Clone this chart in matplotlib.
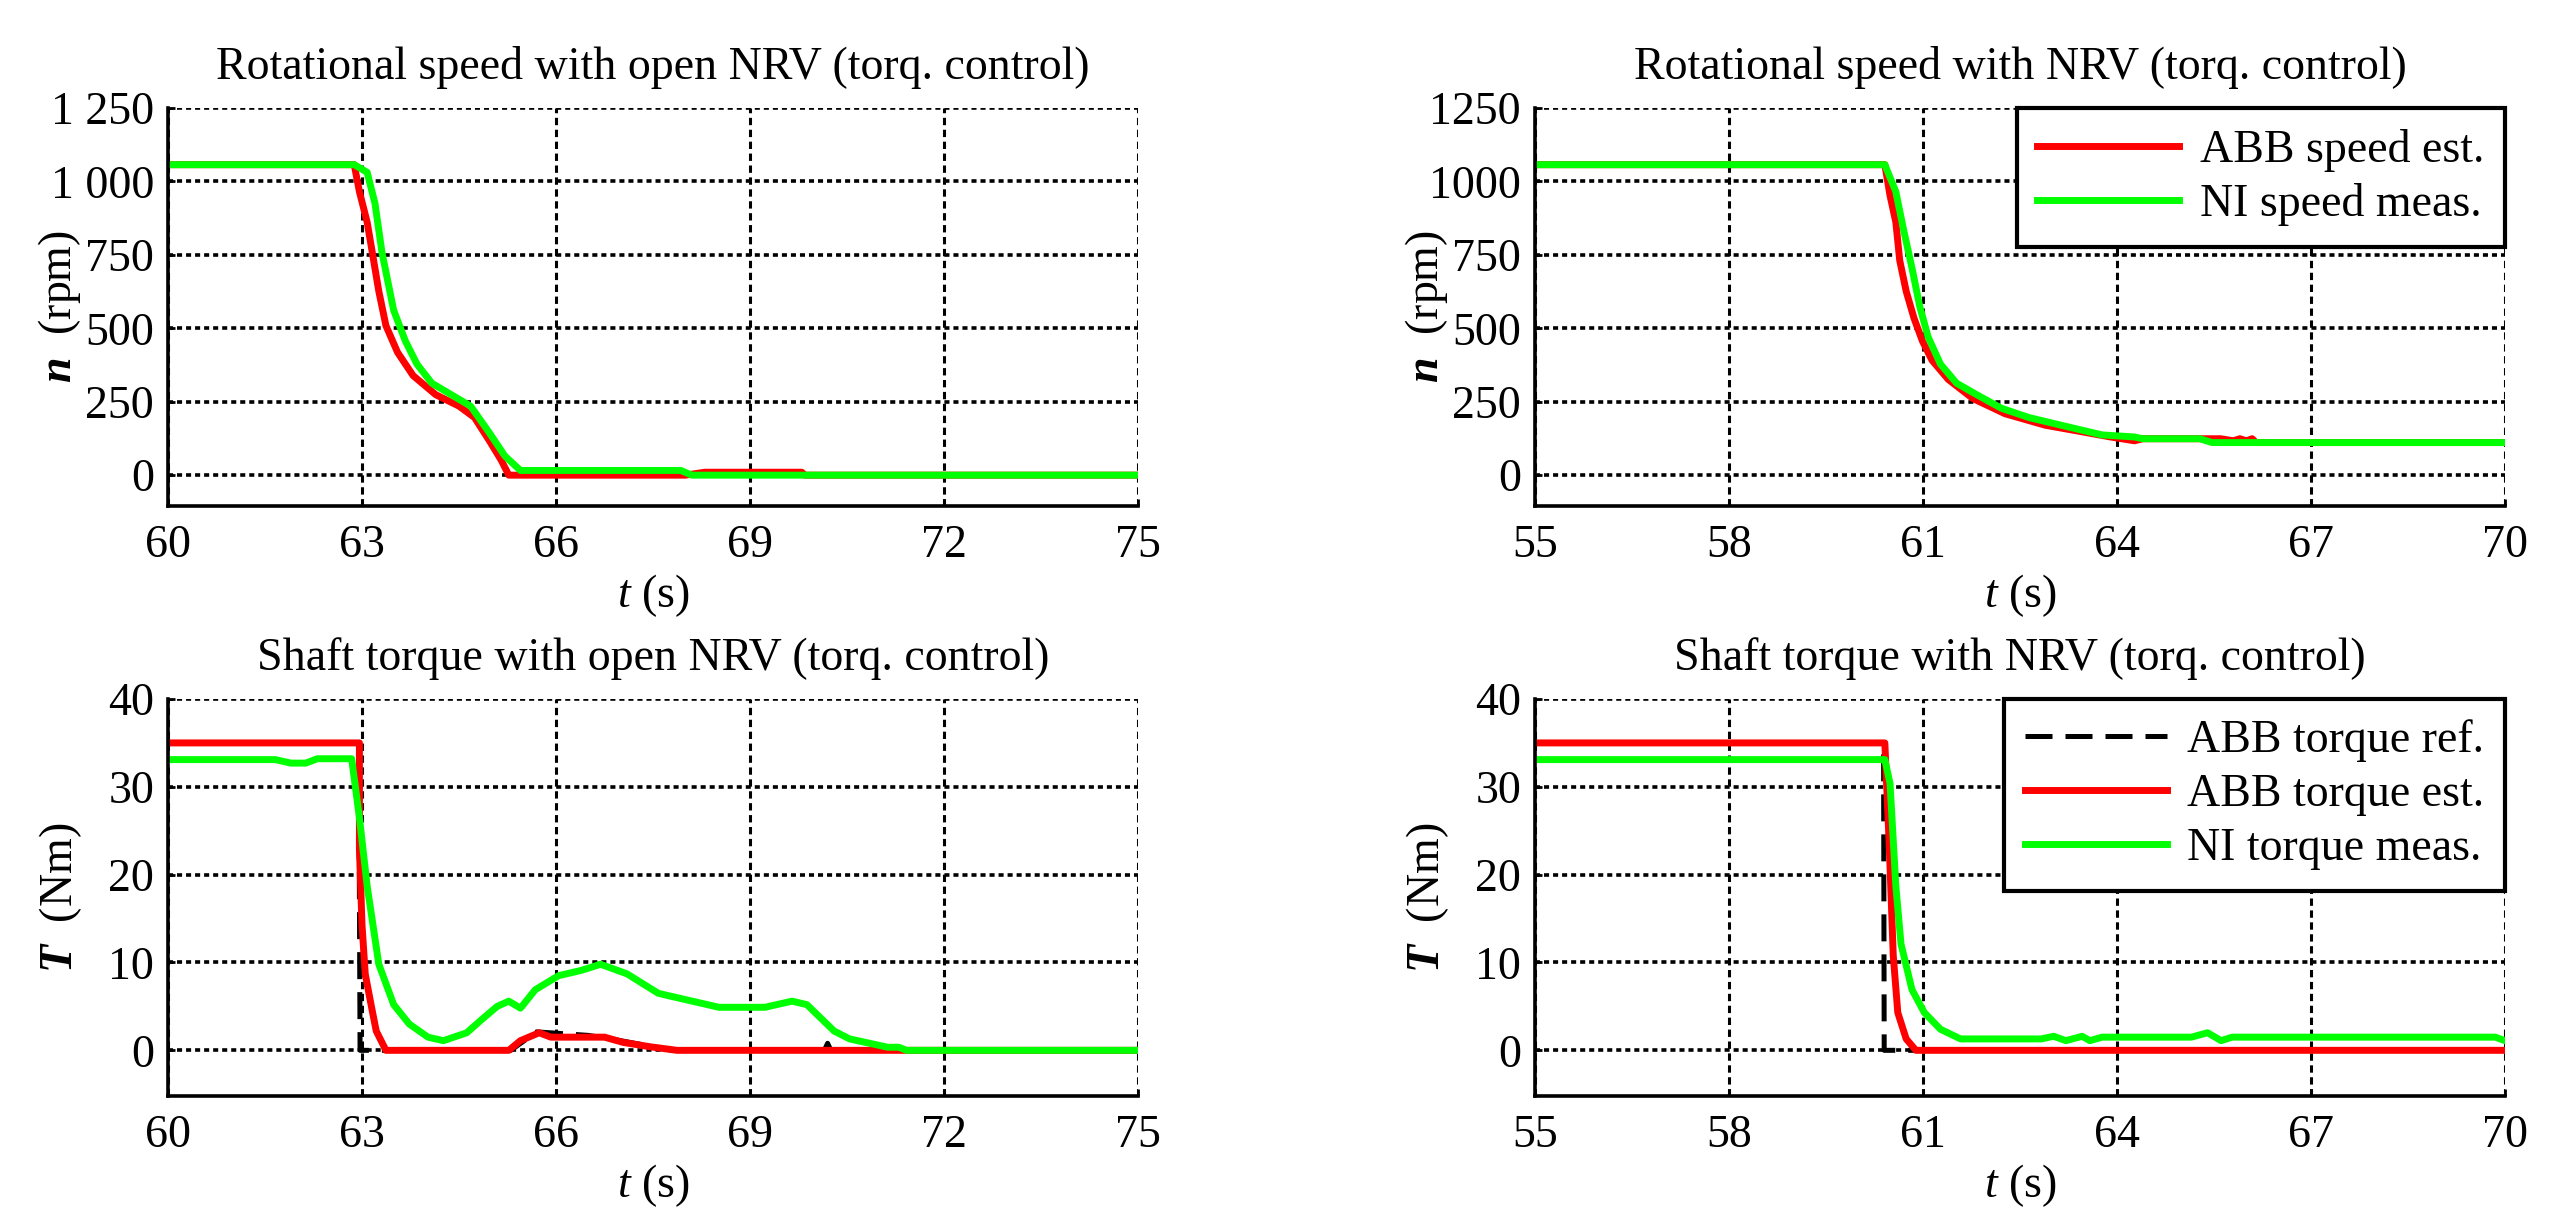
import matplotlib
matplotlib.use("Agg")
import matplotlib.pyplot as plt
from matplotlib.ticker import FuncFormatter

plt.rcParams['font.family'] = ['Liberation Serif', 'DejaVu Serif']
plt.rcParams['mathtext.fontset'] = 'custom'
plt.rcParams['mathtext.rm'] = 'Liberation Serif'
plt.rcParams['mathtext.it'] = 'Liberation Serif:italic'
plt.rcParams['mathtext.bf'] = 'Liberation Serif:bold:italic'

# ---------------- data ----------------
# Top-left: rotational speed with open NRV
tl_abb_t = [60.0, 62.88, 62.96, 63.08, 63.16, 63.26, 63.37, 63.55, 63.79, 64.14, 64.5, 64.74,
            64.97, 65.15, 65.27, 67.93, 68.0, 68.3, 69.8, 69.85, 75.0]
tl_abb_n = [1057, 1057, 965, 861, 757, 626, 509, 418, 339, 274, 235, 196,
            117, 52, 0, 0, 0, 10, 10, 0, 0]
tl_ni_t = [60.0, 62.88, 63.08, 63.2, 63.31, 63.49, 63.67, 63.85, 64.08, 64.38, 64.68, 64.97,
           65.21, 65.45, 67.93, 68.1, 75.0]
tl_ni_n = [1057, 1057, 1031, 926, 757, 561, 457, 378, 313, 274, 235, 144,
           65, 16, 16, 0, 0]

# Top-right: rotational speed with NRV
tr_abb_t = [55.0, 60.41, 60.49, 60.58, 60.64, 60.74, 60.86, 60.99, 61.14, 61.39, 61.77, 62.27,
            62.89, 63.4, 63.9, 64.27, 64.4, 65.6, 65.8, 65.9, 66.0, 66.09, 66.15, 70.0]
tr_abb_n = [1057, 1057, 952, 861, 731, 626, 535, 457, 391, 326, 261, 209,
            170, 150, 130, 117, 124, 124, 117, 124, 117, 124, 111, 111]
tr_ni_t = [55.0, 60.41, 60.58, 60.70, 60.83, 60.95, 61.08, 61.27, 61.52, 61.83, 62.21, 62.64,
           63.27, 63.77, 64.27, 64.4, 65.28, 65.47, 70.0]
tr_ni_n = [1057, 1057, 965, 835, 705, 574, 470, 378, 313, 274, 228, 196,
           163, 137, 130, 124, 124, 111, 111]

# Bottom-left: shaft torque with open NRV
bl_ref_t = [60.0, 62.95, 62.97, 65.3, 65.7, 66.5, 67.0, 67.8, 70.15, 70.2, 70.25, 75.0]
bl_ref_T = [35.0, 35.0, 0.0, 0.0, 2.1, 1.7, 1.1, 0.0, 0.0, 0.8, 0.0, 0.0]
bl_est_t = [60.0, 62.96, 62.96, 63.0, 63.05, 63.14, 63.22, 63.37, 65.27, 65.45, 65.74, 65.92,
            66.75, 67.04, 67.46, 67.87, 75.0]
bl_est_T = [35.0, 35.0, 23.0, 14.3, 8.7, 5.2, 2.2, 0.0, 0.0, 1.1, 2.0, 1.5,
            1.5, 0.9, 0.4, 0.0, 0.0]
bl_ni_t = [60.0, 61.66, 61.9, 62.13, 62.31, 62.84, 62.96, 63.08, 63.26, 63.49, 63.73, 64.02,
           64.26, 64.62, 64.85, 65.09, 65.27, 65.45, 65.68, 66.04, 66.39, 66.69, 67.1, 67.58,
           67.81, 68.52, 69.23, 69.65, 69.88, 70.3, 70.54, 71.13, 71.3, 71.42, 75.0]
bl_ni_T = [33.1, 33.1, 32.7, 32.7, 33.2, 33.2, 26.5, 18.7, 9.8, 5.2, 3.0, 1.5,
           1.1, 2.0, 3.5, 5.0, 5.6, 4.8, 6.9, 8.5, 9.1, 9.8, 8.7, 6.5,
           6.1, 4.9, 4.9, 5.6, 5.2, 2.2, 1.3, 0.35, 0.35, 0.0, 0.0]

# Bottom-right: shaft torque with NRV
br_ref_t = [55.0, 60.39, 60.40, 70.0]
br_ref_T = [35.0, 35.0, 0.0, 0.0]
br_est_t = [55.0, 60.41, 60.48, 60.54, 60.61, 60.74, 60.89, 70.0]
br_est_T = [35.0, 35.0, 23.0, 10.8, 4.3, 1.3, 0.0, 0.0]
br_ni_t = [55.0, 60.41, 60.49, 60.58, 60.66, 60.83, 61.02, 61.27, 61.58, 62.83, 63.02, 63.21,
           63.46, 63.58, 63.77, 65.15, 65.4, 65.61, 65.78, 69.85, 70.0]
br_ni_T = [33.1, 33.1, 30.4, 18.7, 12.1, 6.9, 4.3, 2.4, 1.3, 1.3, 1.6, 1.1,
           1.6, 1.1, 1.5, 1.5, 2.0, 1.1, 1.5, 1.5, 1.1]

xticks_left = [60, 63, 66, 69, 72, 75]
xticks_right = [55, 58, 61, 64, 67, 70]
speed_ticks = [0, 250, 500, 750, 1000, 1250]
torque_ticks = [0, 10, 20, 30, 40]

titles = ["Rotational speed with open NRV (torq. control)",
          "Rotational speed with NRV (torq. control)",
          "Shaft torque with open NRV (torq. control)",
          "Shaft torque with NRV (torq. control)"]

# ---------------- figure ----------------
W, H = 2571, 1216
fig = plt.figure(figsize=(W / 100, H / 100), dpi=100)
FS = 33
RED = '#ff0000'
GREEN = '#00ff00'
LW = 5.0


def px_axes(l, t, r, b):
    return fig.add_axes([l / W, 1 - b / H, (r - l) / W, (b - t) / H])


ax_tl = px_axes(168, 108, 1138, 506)
ax_tr = px_axes(1535, 108, 2505, 506)
ax_bl = px_axes(168, 699, 1138, 1096)
ax_br = px_axes(1535, 699, 2505, 1096)


def style(ax, title, xlim, xticks, ylim, yticks, ylabel, ylab_x):
    ax.set_xlim(*xlim)
    ax.set_ylim(*ylim)
    ax.set_xticks(xticks)
    ax.set_yticks(yticks)
    ax.grid(False)
    for x in xticks:
        ax.axvline(x, color='black', lw=2.2, ls=(0, (2.4, 1.5)), zorder=1)
    for y in yticks:
        ax.axhline(y, color='black', lw=2.6, ls=(0, (1.4, 1.1)), zorder=1)
    for s in ['top', 'right']:
        ax.spines[s].set_visible(False)
    for s in ['left', 'bottom']:
        ax.spines[s].set_linewidth(2.6)
        ax.spines[s].set_zorder(5)
    ax.tick_params(axis='both', direction='in', length=5, width=2, labelsize=FS,
                   top=False, right=False)
    ax.tick_params(axis='x', pad=13)
    ax.tick_params(axis='y', pad=10)
    ax.set_title(title, fontsize=FS, pad=21)
    ax.set_xlabel(r'$t$ (s)', fontsize=FS, labelpad=4)
    ax.set_ylabel(ylabel, fontsize=FS)
    ax.yaxis.set_label_coords(ylab_x, 0.5)


style(ax_tl, titles[0], (60, 75), xticks_left, (-105, 1250), speed_ticks, r'$\mathbf{n}$  (rpm)', -0.088)
style(ax_tr, titles[1], (55, 70), xticks_right, (-105, 1250), speed_ticks, r'$\mathbf{n}$  (rpm)', -0.088)
style(ax_bl, titles[2], (60, 75), xticks_left, (-5.2, 40), torque_ticks, r'$\mathbf{T}$  (Nm)', -0.087)
style(ax_br, titles[3], (55, 70), xticks_right, (-5.2, 40), torque_ticks, r'$\mathbf{T}$  (Nm)', -0.087)

ax_tl.yaxis.set_major_formatter(FuncFormatter(lambda v, p: f"{int(v):,}".replace(',', ' ')))
ax_tr.yaxis.set_major_formatter(FuncFormatter(lambda v, p: f"{int(v)}"))

# speed plots
ax_tl.plot(tl_abb_t, tl_abb_n, color=RED, lw=LW, zorder=3)
ax_tl.plot(tl_ni_t, tl_ni_n, color=GREEN, lw=LW, zorder=4)

ax_tr.plot(tr_abb_t, tr_abb_n, color=RED, lw=LW, zorder=3, label='ABB speed est.')
ax_tr.plot(tr_ni_t, tr_ni_n, color=GREEN, lw=LW, zorder=4, label='NI speed meas.')

# torque plots
DASH = (0, (5.4, 2.6))
ax_bl.plot(bl_ref_t, bl_ref_T, color='black', lw=3.6, ls=DASH, zorder=2)
ax_bl.plot(bl_est_t, bl_est_T, color=RED, lw=LW, zorder=3)
ax_bl.plot(bl_ni_t, bl_ni_T, color=GREEN, lw=LW, zorder=4)

ax_br.plot(br_ref_t, br_ref_T, color='black', lw=3.6, ls=DASH, zorder=2, label='ABB torque ref.')
ax_br.plot(br_est_t, br_est_T, color=RED, lw=LW, zorder=3, label='ABB torque est.')
ax_br.plot(br_ni_t, br_ni_T, color=GREEN, lw=LW, zorder=4, label='NI torque meas.')

for ax in (ax_tr, ax_br):
    leg = ax.legend(loc='upper right', fontsize=FS, frameon=True, fancybox=False,
                    framealpha=1, borderaxespad=0, borderpad=0.45, handlelength=3.1,
                    handletextpad=0.45, labelspacing=0.25)
    leg.get_frame().set_edgecolor('black')
    leg.get_frame().set_linewidth(3)
    leg.set_zorder(10)

fig.savefig('out.png', dpi=100, facecolor='white')
